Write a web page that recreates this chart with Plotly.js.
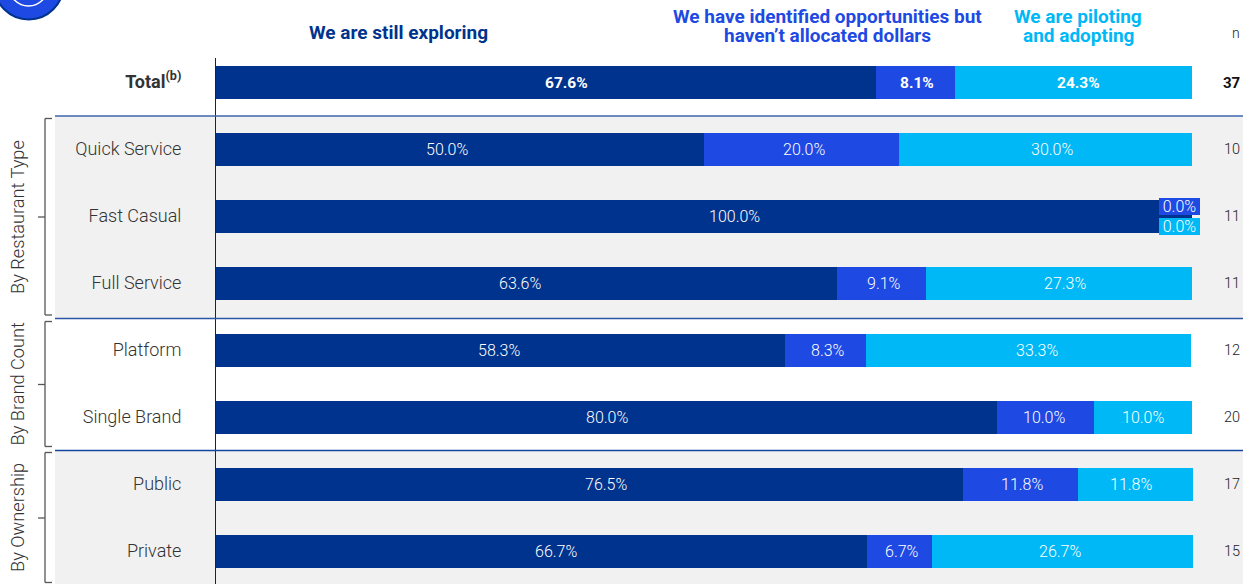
<!DOCTYPE html>
<html>
<head>
<meta charset="utf-8">
<script src="https://cdn.plot.ly/plotly-3.0.1.min.js"></script>
<style>html,body{margin:0;padding:0;background:#fff;overflow:hidden}#chart{width:1243px;height:584px}</style>
</head>
<body>
<div id="chart"></div>
<script>
// Survey responses by segment, in percent
const categories = ["Total<sup>(b)</sup>", "Quick Service", "Fast Casual", "Full Service", "Platform", "Single Brand", "Public", "Private"];
const exploring = [67.6, 50.0, 100.0, 63.6, 58.3, 80.0, 76.5, 66.7];
const identified = [8.1, 20.0, 0.0, 9.1, 8.3, 10.0, 11.8, 6.7];
const piloting = [24.3, 30.0, 0.0, 27.3, 33.3, 10.0, 11.8, 26.7];
const sampleSizes = [37, 10, 11, 11, 12, 20, 17, 15];
const seriesHeadings = [["We are still exploring"], ["We have identified opportunities but", "haven’t allocated dollars"], ["We are piloting", "and adopting"]];
const groupNames = ["By Restaurant Type", "By Brand Count", "By Ownership"];

// Hand placement of the value labels along each bar, in pixels
const labelNudge = [
  [21, 2, 5], [-13, 2, 6], [30, 0, 0], [-6, 3, 6],
  [-2, 2, 8], [1, -2, 0], [17, 2, -4], [14, 2, -3]
];

const DARK = "#00338D", MID = "#1E49E2", LIGHT = "#00B8F5", BAND = "#F1F1F1", INK = "#333333";
const FONT = "Roboto, 'Liberation Sans', sans-serif";
const lightFont = (size, color) => ({family: FONT, size, color, weight: 300});

const W = 1243, H = 584, L = 216, T = 58, PX_PER_PERCENT = 9.76;
const px = x => (x - L) / (W - L);
const py = y => (H - y) / (H - T);
const rowIndex = y => (y - 82.5) / 67;

function barTrace(name, values, color) {
  return {
    type: "bar", orientation: "h", name,
    x: values, y: values.map((_, i) => i),
    width: 33 / 67,
    marker: {color, line: {width: 0}},
    hoverinfo: "skip"
  };
}

const line = (x0, y0, x1, y1, color, width) => ({
  type: "line", xref: "paper", yref: "paper", layer: "above",
  x0: px(x0), x1: px(x1), y0: py(y0), y1: py(y1),
  line: {color, width}
});
const band = (y0, y1) => ({
  type: "rect", xref: "paper", yref: "paper", layer: "below",
  x0: px(55), x1: px(W), y0: py(y0), y1: py(y1),
  fillcolor: BAND, line: {width: 0}
});
const bracket = (top, bottom, mid) => [
  line(45, top, 45, bottom, "#555", 1.3),
  line(45, top, 52, top, "#555", 1.3),
  line(45, bottom, 52, bottom, "#555", 1.3),
  line(38, mid, 45, mid, "#555", 1.3)
];

const shapes = [
  band(116, 318.5), band(450, H),
  line(55, 116, W, 116, "#3E66AE", 1.3),
  line(55, 318.5, W, 318.5, "#2A56A6", 1.3),
  line(55, 450.5, W, 450.5, "#1446A0", 1.3),
  ...bracket(118.5, 315, 217),
  ...bracket(321.5, 446.5, 384.5),
  ...bracket(452.5, 582.5, 518),
  // Badge cropped by the top of the page
  {type: "circle", xref: "paper", yref: "paper", layer: "above",
   x0: px(-6), x1: px(63.5), y0: py(-50), y1: py(19.5),
   fillcolor: MID, line: {color: DARK, width: 2}},
  {type: "circle", xref: "paper", yref: "paper", layer: "above",
   x0: px(9), x1: px(48), y0: py(-33), y1: py(6),
   fillcolor: "rgba(0,0,0,0)", line: {color: "#fff", width: 1.5}}
];

const note = (text, x, y, font, extra) => Object.assign({
  text, xref: "paper", yref: "paper", x: px(x), y: py(y),
  xanchor: "center", yanchor: "middle", showarrow: false, font
}, extra || {});
const boldHeading = color => ({family: FONT, size: 19, color});

const annotations = [
  note("<b>" + seriesHeadings[0][0] + "</b>", 398.5, 33, boldHeading(DARK)),
  note("<b>" + seriesHeadings[1][0] + "</b>", 827, 16, boldHeading(MID)),
  note("<b>" + seriesHeadings[1][1] + "</b>", 827, 36, boldHeading(MID)),
  note("<b>" + seriesHeadings[2][0] + "</b>", 1078, 16, boldHeading(LIGHT)),
  note("<b>" + seriesHeadings[2][1] + "</b>", 1078, 36, boldHeading(LIGHT)),
  note("n", 1242, 33, lightFont(14, "#222"), {xanchor: "right"}),
  note(groupNames[0], 17, 217, lightFont(18.2, INK), {textangle: -90}),
  note(groupNames[1], 17, 384.5, lightFont(18.2, INK), {textangle: -90}),
  note(groupNames[2], 17, 518, lightFont(18.2, INK), {textangle: -90})
];

// Sample size column, aligned to the rows
sampleSizes.forEach((n, i) => annotations.push({
  text: i === 0 ? "<b>" + n + "</b>" : String(n),
  xref: "paper", yref: "y", x: px(1242), y: i, xanchor: "right", yanchor: "middle",
  showarrow: false,
  font: i === 0 ? {family: FONT, size: 15, color: "#111"} : {family: FONT, size: 14.5, color: "#222", weight: 300}
}));

// Value labels centred on their segments; zero shares get tags at the row end instead
[exploring, identified, piloting].forEach((values, s) => {
  values.forEach((v, i) => {
    if (v === 0) return;
    const before = s === 0 ? 0 : exploring[i] + (s === 2 ? identified[i] : 0);
    const label = v.toFixed(1) + "%";
    annotations.push({
      text: i === 0 ? "<b>" + label + "</b>" : label,
      xref: "x", yref: "y", x: before + v / 2, y: i, xshift: labelNudge[i][s],
      xanchor: "center", yanchor: "middle", showarrow: false,
      font: i === 0 ? {family: FONT, size: 15.5, color: "#fff"} : lightFont(16, "#fff")
    });
  });
});
[[identified, MID, 9.6], [piloting, LIGHT, -9.5]].forEach(([values, color, lift]) => {
  values.forEach((v, i) => {
    if (v !== 0) return;
    annotations.push({
      text: v.toFixed(1) + "%", xref: "paper", yref: "y", x: px(1179.5), y: i,
      yshift: lift, xanchor: "center", yanchor: "middle", showarrow: false,
      width: 41, height: 17, bgcolor: color, borderpad: 0, borderwidth: 0,
      font: lightFont(16, "#fff")
    });
  });
});

Plotly.newPlot("chart", [
  barTrace("We are still exploring", exploring, DARK),
  barTrace("We have identified opportunities", identified, MID),
  barTrace("We are piloting and adopting", piloting, LIGHT)
], {
  width: W, height: H, barmode: "stack", showlegend: false,
  margin: {l: L, r: 0, t: T, b: 0, pad: 0},
  paper_bgcolor: "rgba(0,0,0,0)", plot_bgcolor: "rgba(0,0,0,0)",
  xaxis: {range: [0, (W - L) / PX_PER_PERCENT], visible: false, fixedrange: true},
  yaxis: {
    range: [rowIndex(H), rowIndex(T)], tickmode: "array",
    tickvals: categories.map((_, i) => i),
    ticktext: categories.map((c, i) => i === 0 ? "<b>" + c + "</b>" : c),
    showline: true, linecolor: "#222", linewidth: 1, showgrid: false, zeroline: false,
    ticks: "outside", ticklen: 30, tickwidth: 0, tickcolor: "rgba(0,0,0,0)",
    ticklabelshift: 1,
    tickfont: lightFont(18, INK),
    automargin: false, fixedrange: true
  },
  shapes, annotations
}, {displayModeBar: false, staticPlot: true});
</script>
</body>
</html>
